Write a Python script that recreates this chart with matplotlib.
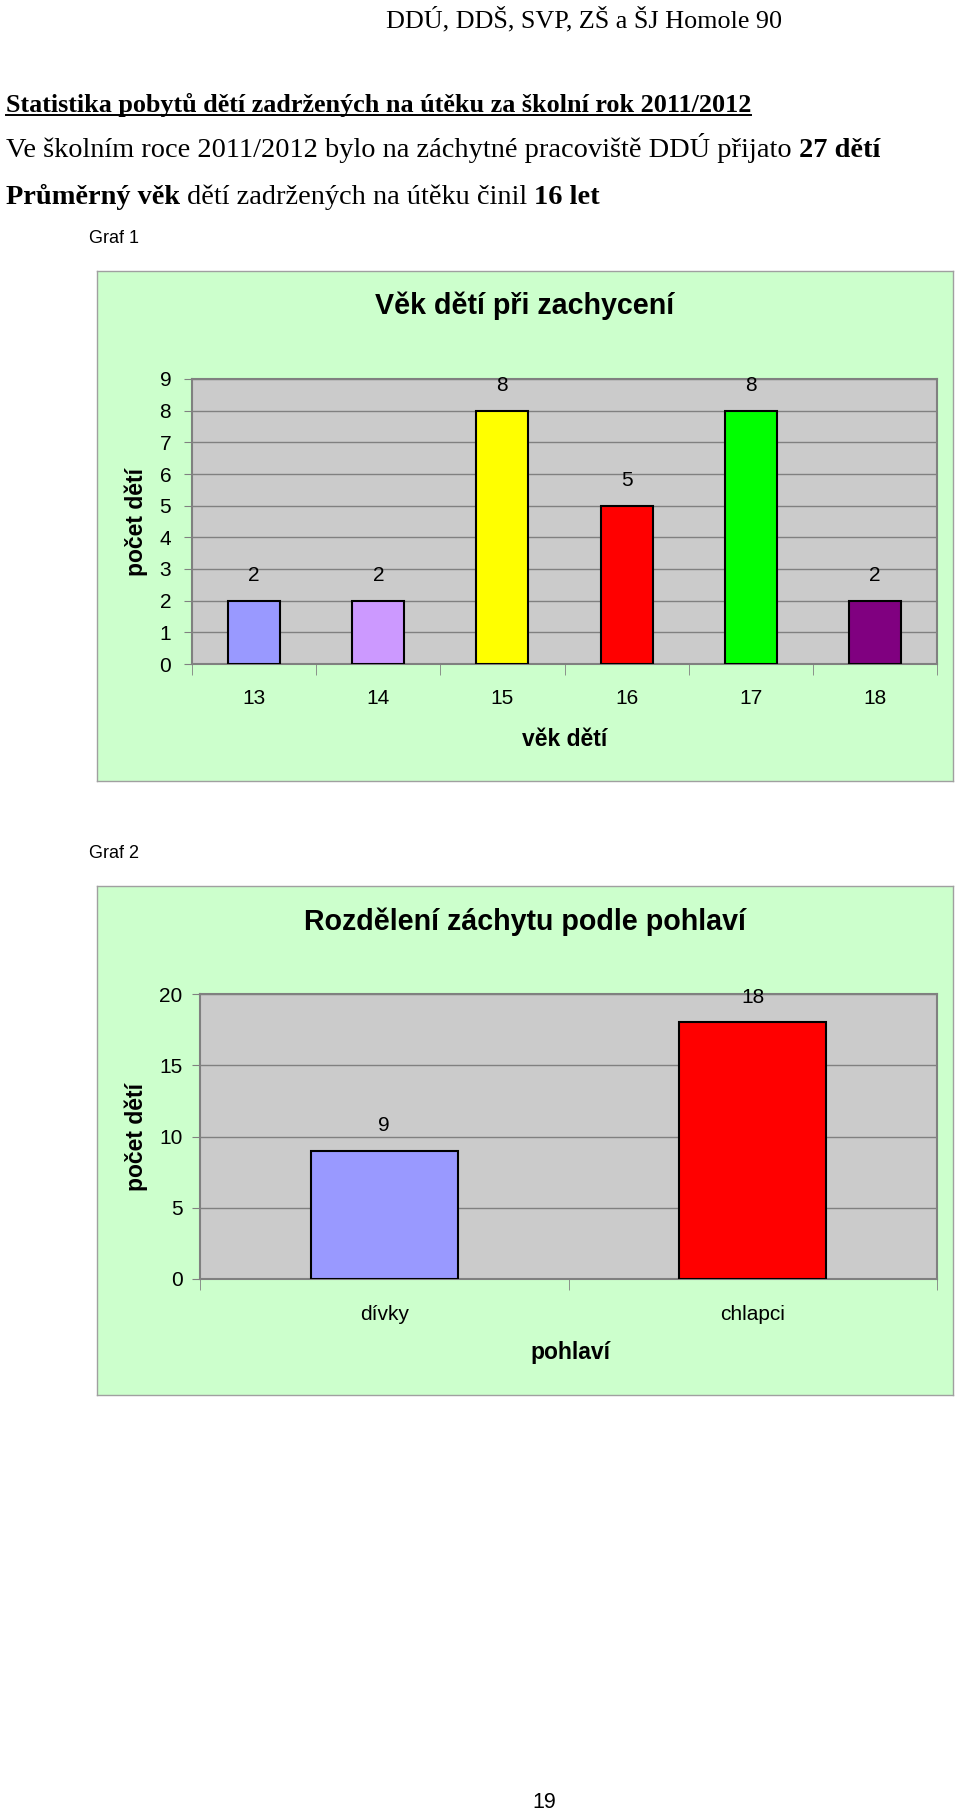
import matplotlib.pyplot as plt
from matplotlib.ticker import MultipleLocator, FixedLocator

# data
ages = ["13", "14", "15", "16", "17", "18"]
age_counts = [2, 2, 8, 5, 8, 2]
age_colors = ["#9999FF", "#CC99FF", "#FFFF00", "#FF0000", "#00FF00", "#800080"]

genders = ["dívky", "chlapci"]
gender_counts = [9, 18]
gender_colors = ["#9999FF", "#FF0000"]

W, H = 960, 1814
SERIF = "Liberation Serif"
SANS = "Liberation Sans"

fig = plt.figure(figsize=(W / 100, H / 100), dpi=100)
fig.patch.set_facecolor("white")


def fx(x):
    return x / W


def fy(y):
    return 1 - y / H


def rect(l, t, r, b):
    return [fx(l), fy(b), (r - l) / W, (b - t) / H]


renderer = fig.canvas.get_renderer()


def text_width(s, **kw):
    t = fig.text(0, 0, s + "x", **kw)
    w1 = t.get_window_extent(renderer).width
    t.remove()
    t = fig.text(0, 0, "x", **kw)
    w2 = t.get_window_extent(renderer).width
    t.remove()
    return w1 - w2


def rich(x, y, parts, size):
    for s, bold in parts:
        kw = dict(family=SERIF, fontsize=size, fontweight="bold" if bold else "normal")
        fig.text(fx(x), fy(y), s, va="baseline", ha="left", **kw)
        x += text_width(s, **kw)
    return x


# page header
fig.text(fx(782), fy(27), "DDÚ, DDŠ, SVP, ZŠ a ŠJ Homole 90", family=SERIF,
         fontsize=18.8, ha="right", va="baseline")

end = rich(6, 112, [("Statistika pobytů dětí zadržených na útěku za školní rok 2011/2012", True)], 18.8)
fig.add_artist(plt.Line2D([fx(6), fx(end)], [fy(114.5), fy(114.5)], color="black", lw=1.4))

rich(6, 157, [("Ve školním roce 2011/2012 bylo na záchytné pracoviště DDÚ přijato ", False),
              ("27 dětí", True)], 20.4)
rich(6, 204, [("Průměrný věk", True), (" dětí zadržených na útěku činil ", False),
              ("16 let", True)], 20.4)


def chart(box, area, title, title_y, cats, vals, colors, ymax, ystep, barw,
          xlabel, xlabel_pos, ylabel_pos, tick_pad, ypad):
    bg = fig.add_axes(rect(*box))
    bg.set_facecolor("#CCFFCC")
    bg.set_xticks([])
    bg.set_yticks([])
    for s in bg.spines.values():
        s.set_color("#A0A0A0")
        s.set_linewidth(1)

    ax = fig.add_axes(rect(*area))
    ax.set_facecolor("#CBCBCB")
    x = list(range(len(cats)))
    bars = ax.bar(x, vals, width=barw, color=colors, edgecolor="black", linewidth=1.5, zorder=3)
    for b, v in zip(bars, vals):
        ax.annotate(str(v), (b.get_x() + b.get_width() / 2, v), xytext=(0, 18),
                    textcoords="offset points", ha="center", va="center",
                    family=SANS, fontsize=15)
    ax.set_xlim(-0.5, len(cats) - 0.5)
    ax.set_ylim(0, ymax)
    ax.yaxis.set_major_locator(MultipleLocator(ystep))
    ax.grid(axis="y", color="#808080", lw=1, zorder=1)
    ax.set_axisbelow(True)
    ax.set_xticks(x)
    ax.set_xticklabels(cats, family=SANS, fontsize=15)
    ax.xaxis.set_minor_locator(FixedLocator([i - 0.5 for i in range(len(cats) + 1)]))
    ax.tick_params(axis="x", which="major", length=0, pad=tick_pad)
    ax.tick_params(axis="x", which="minor", length=8, color="#808080", direction="out")
    ax.tick_params(axis="y", length=6, color="#808080", direction="out", pad=ypad, labelsize=15)
    for lab in ax.get_yticklabels():
        lab.set_family(SANS)
    for s in ax.spines.values():
        s.set_color("#808080")
        s.set_linewidth(1.5)

    cx = (box[0] + box[2]) / 2
    fig.text(fx(cx), fy(title_y), title, family=SANS, fontsize=20.6, fontweight="bold",
             ha="center", va="center")
    fig.text(fx(xlabel_pos[0]), fy(xlabel_pos[1]), xlabel, family=SANS, fontsize=16.5,
             fontweight="bold", ha="center", va="center")
    fig.text(fx(ylabel_pos[0]), fy(ylabel_pos[1]), "počet dětí", family=SANS, fontsize=16.5,
             fontweight="bold", ha="center", va="center", rotation=90)
    return ax


fig.text(fx(89), fy(243), "Graf 1", family=SANS, fontsize=13, va="baseline")
chart((97, 271, 953, 781), (192, 379, 937, 664), "Věk dětí při zachycení", 306,
      ages, age_counts, age_colors, 9, 1, 0.42, "věk dětí", (565, 740), (136, 522), 18, 9)

fig.text(fx(89), fy(858), "Graf 2", family=SANS, fontsize=13, va="baseline")
chart((97, 886, 953, 1395), (200, 994, 937, 1279), "Rozdělení záchytu podle pohlaví", 922,
      genders, gender_counts, gender_colors, 20, 5, 0.4, "pohlaví", (570, 1353), (136, 1137), 19, 6.5)

fig.text(fx(544), fy(1802), "19", family=SANS, fontsize=15.5, ha="center", va="center")

fig.savefig("out.png", dpi=100)
